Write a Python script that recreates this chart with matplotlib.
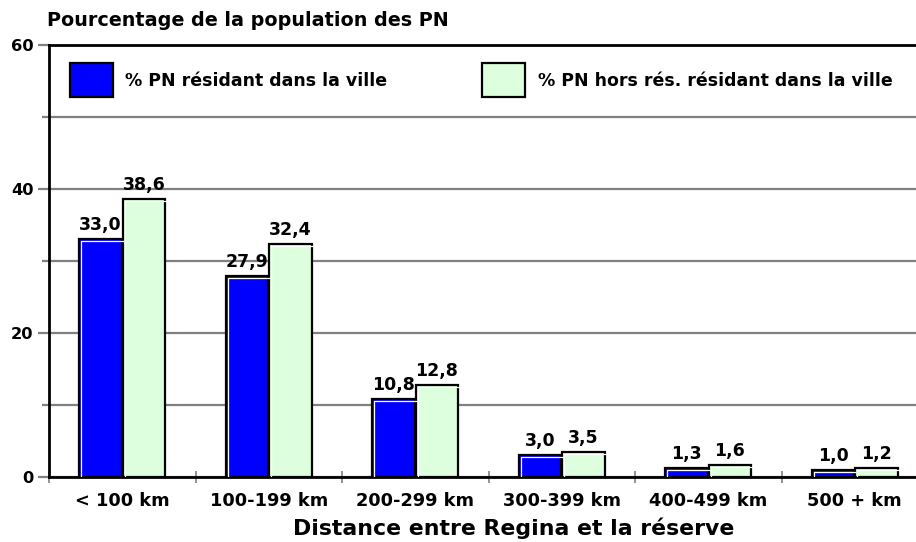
"""Bar chart: share of First Nations population by distance between Regina and the reserve."""

import matplotlib.pyplot as plt
from matplotlib.patches import Rectangle
from matplotlib.transforms import offset_copy
import numpy as np

plt.rcParams["font.family"] = ["DejaVu Sans"]
plt.rcParams["font.weight"] = "bold"

categories = ["< 100 km", "100-199 km", "200-299 km", "300-399 km", "400-499 km", "500 + km"]
resident = [33.0, 27.9, 10.8, 3.0, 1.3, 1.0]
off_reserve = [38.6, 32.4, 12.8, 3.5, 1.6, 1.2]
series_labels = ["% PN résidant dans la ville", "% PN hors rés. résidant dans la ville"]
colors = ["#0000ff", "#ddffdd"]

W, H = 916, 542
fig = plt.figure(figsize=(W / 100, H / 100), dpi=100)
# axes runs a bit past the right edge of the image, like the original
ax = fig.add_axes([49 / W, 65 / H, 879 / W, 432 / H])

x = np.arange(len(categories))
width = 0.29
offsets = [-0.148, 0.148]
hl = offset_copy(ax.transData, fig=fig, x=2, y=-2, units="dots")

for vals, off, col in zip([resident, off_reserve], offsets, colors):
    bars = ax.bar(x + off, vals, width, color=col, edgecolor="black", linewidth=1.6, zorder=3)
    for b, v in zip(bars, vals):
        x0, x1 = b.get_x(), b.get_x() + b.get_width()
        # white bevel on the left and top inner edge
        ax.plot([x0, x0, x1], [0, v, v], color="white", linewidth=0.9, transform=hl, zorder=4,
                solid_capstyle="butt")
        ax.annotate(f"{v:.1f}".replace(".", ","), (b.get_x() + b.get_width() / 2, v),
                    xytext=(0, 6.5), textcoords="offset points", ha="center", va="baseline",
                    fontsize=12.5, fontweight="bold", zorder=5)

ax.set_xlim(-0.5, 5.5)
ax.set_ylim(0, 60)

ax.set_yticks([0, 20, 40, 60])
ax.set_yticks([10, 30, 50], minor=True)
ax.yaxis.grid(True, which="both", color="#808080", linewidth=1.6, zorder=0)
ax.tick_params(axis="y", which="major", length=8, width=1.6, color="#808080", labelsize=11.7, pad=3)
ax.tick_params(axis="y", which="minor", length=5, width=1.6, color="#808080")

# gray marks at the category boundaries, labels at the centers
ax.set_xticks(np.arange(len(categories) + 1) - 0.5)
ax.set_xticklabels([])
ax.tick_params(axis="x", which="major", direction="inout", length=8, width=1.2, color="#808080")
ax.set_xticks(x, minor=True)
ax.set_xticklabels(categories, minor=True)
ax.tick_params(axis="x", which="minor", length=0, labelsize=12.8, pad=11)

for side in ["left", "bottom", "top"]:
    ax.spines[side].set_linewidth(2)
    ax.spines[side].set_color("black")
ax.spines["right"].set_visible(False)
ax.set_axisbelow(True)

# legend drawn by hand in axes fraction
for (bx, tx), col, lab in zip([(21, 76), (433, 489)], colors, series_labels):
    ax.add_patch(Rectangle((bx / 879, (477 - 97) / 432), 43 / 879, 34 / 432, transform=ax.transAxes,
                           facecolor=col, edgecolor="black", linewidth=1.6, zorder=5))
    ax.text(tx / 879, (477 - 81) / 432, lab, transform=ax.transAxes, ha="left", va="center",
            fontsize=12.5, fontweight="bold", zorder=5)

fig.text(47 / W, 1 - 26 / H, "Pourcentage de la population des PN", ha="left", va="baseline",
         fontsize=13.8, fontweight="bold")
fig.text(514 / W, 1 - 535 / H, "Distance entre Regina et la réserve", ha="center", va="baseline",
         fontsize=15.8, fontweight="bold")

fig.savefig("out.png", dpi=100)
